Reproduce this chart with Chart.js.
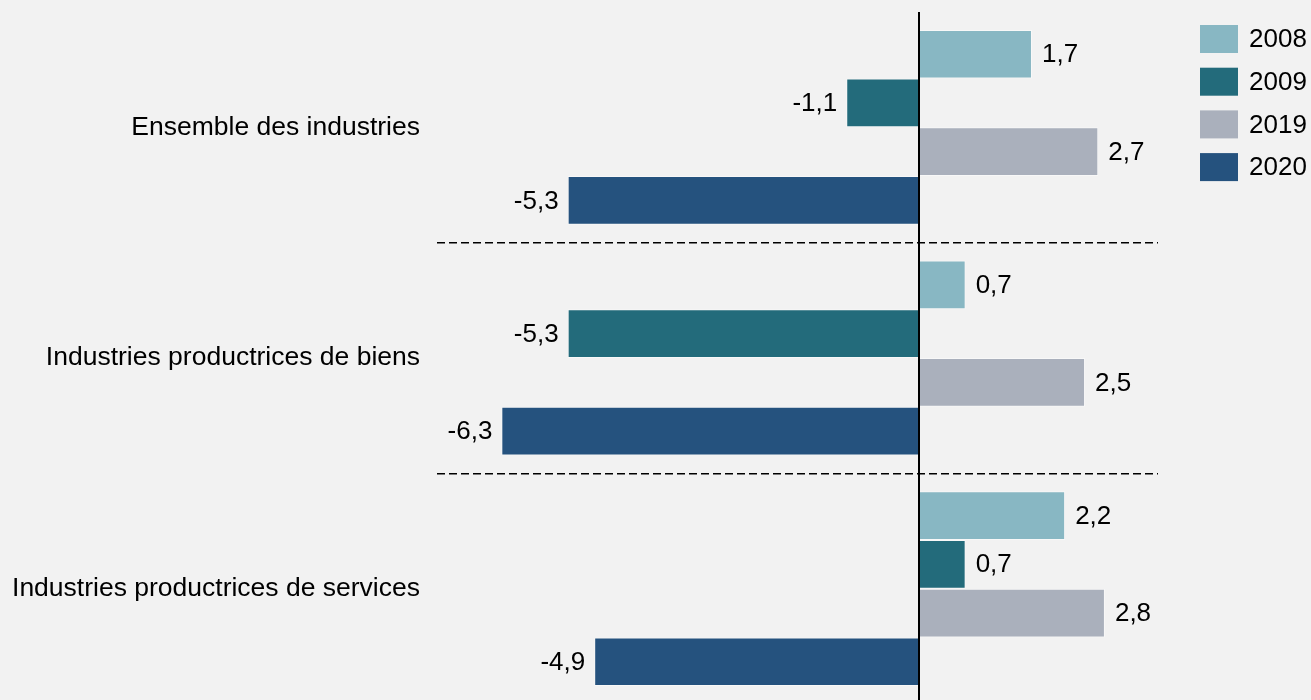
<!DOCTYPE html>
<html lang="fr">
<head>
<meta charset="utf-8">
<script src="https://cdn.jsdelivr.net/npm/chart.js@4/dist/chart.umd.min.js"></script>
<style>
  html,body{ margin:0; padding:0; background:#f2f2f2; overflow:hidden; }
  #wrap{ position:relative; width:1311px; height:704px; }
</style>
</head>
<body>
<div id="wrap"><canvas id="chart"></canvas></div>
<script>
// ── DONNÉES ─────────────────────────────────────────────
const categories = ['Ensemble des industries', 'Industries productrices de biens', 'Industries productrices de services'];
const years      = ['2008', '2009', '2019', '2020'];
const v2008      = [1.7, 0.7, 2.2];
const v2009      = [-1.1, -5.3, 0.7];
const v2019      = [2.7, 2.5, 2.8];
const v2020      = [-5.3, -6.3, -4.9];
const colors     = ['#88b7c3', '#236b7b', '#aab0bc', '#25527e'];

const FONT = '"Liberation Sans", Arial, sans-serif';
const FSIZE = 26;

// ── PLUGINS ─────────────────────────────────────────────
const valueLabels = {
  id:'valueLabels',
  afterDatasetsDraw(chart){
    const ctx = chart.ctx;
    ctx.save();
    // axe vertical à zéro, par-dessus les barres
    const x0 = Math.round(chart.scales.x.getPixelForValue(0));
    ctx.strokeStyle = '#000';
    ctx.lineWidth = 2;
    ctx.beginPath();
    ctx.moveTo(x0, chart.chartArea.top);
    ctx.lineTo(x0, chart.chartArea.bottom);
    ctx.stroke();

    ctx.font = FSIZE + 'px ' + FONT;
    ctx.fillStyle = '#000';
    ctx.textBaseline = 'middle';
    chart.data.datasets.forEach((ds, i)=>{
      chart.getDatasetMeta(i).data.forEach((bar, j)=>{
        const v = ds.data[j];
        const txt = String(v).replace('.', ',');
        if(v >= 0){ ctx.textAlign = 'left';  ctx.fillText(txt, bar.x + 10, bar.y + 1); }
        else      { ctx.textAlign = 'right'; ctx.fillText(txt, bar.x - 9,  bar.y + 1); }
      });
    });
    ctx.restore();
  }
};

const sideLegend = {
  id:'sideLegend',
  afterDraw(chart){
    const ctx = chart.ctx;
    ctx.save();
    ctx.font = FSIZE + 'px ' + FONT;
    ctx.textBaseline = 'middle';
    ctx.textAlign = 'left';
    chart.data.datasets.forEach((ds, i)=>{
      const y = 25 + i * 42.7;
      ctx.fillStyle = ds.backgroundColor;
      ctx.fillRect(1200, y, 38, 28);
      ctx.fillStyle = '#000';
      ctx.fillText(ds.label, 1249, y + 15);
    });
    ctx.restore();
  }
};

// ── GRAPHIQUE ───────────────────────────────────────────
const series = [v2008, v2009, v2019, v2020];

new Chart(document.getElementById('chart'), {
  type:'bar',
  data:{
    labels: categories,
    datasets: years.map((y, i)=>({
      label: y,
      data: series[i],
      backgroundColor: colors[i],
      borderColor: 'rgba(255,255,255,0.45)',
      borderWidth: 1,
      barPercentage: 1,
      categoryPercentage: 0.845
    }))
  },
  options:{
    indexAxis:'y',
    responsive:true,
    maintainAspectRatio:false,
    animation:false,
    layout:{ padding:{ top:12, bottom:0, left:0, right:153 } },
    plugins:{ legend:{ display:false }, tooltip:{ enabled:false } },
    scales:{
      x:{ display:false, min:-7.27, max:3.6 },
      y:{
        border:{ display:false, dash:[8,4] },
        afterFit(scale){ scale.width = 437; scale.paddingTop = 0; scale.paddingBottom = 0; },
        ticks:{ color:'#000', font:{ family:FONT, size:26.5 }, padding:17 },
        grid:{
          offset:true,
          drawTicks:false,
          color: c => (c.index >= 1 && c.index < categories.length) ? '#000' : 'rgba(0,0,0,0)',
          lineWidth: 1.5
        }
      }
    }
  },
  plugins:[valueLabels, sideLegend]
});
</script>
</body>
</html>
